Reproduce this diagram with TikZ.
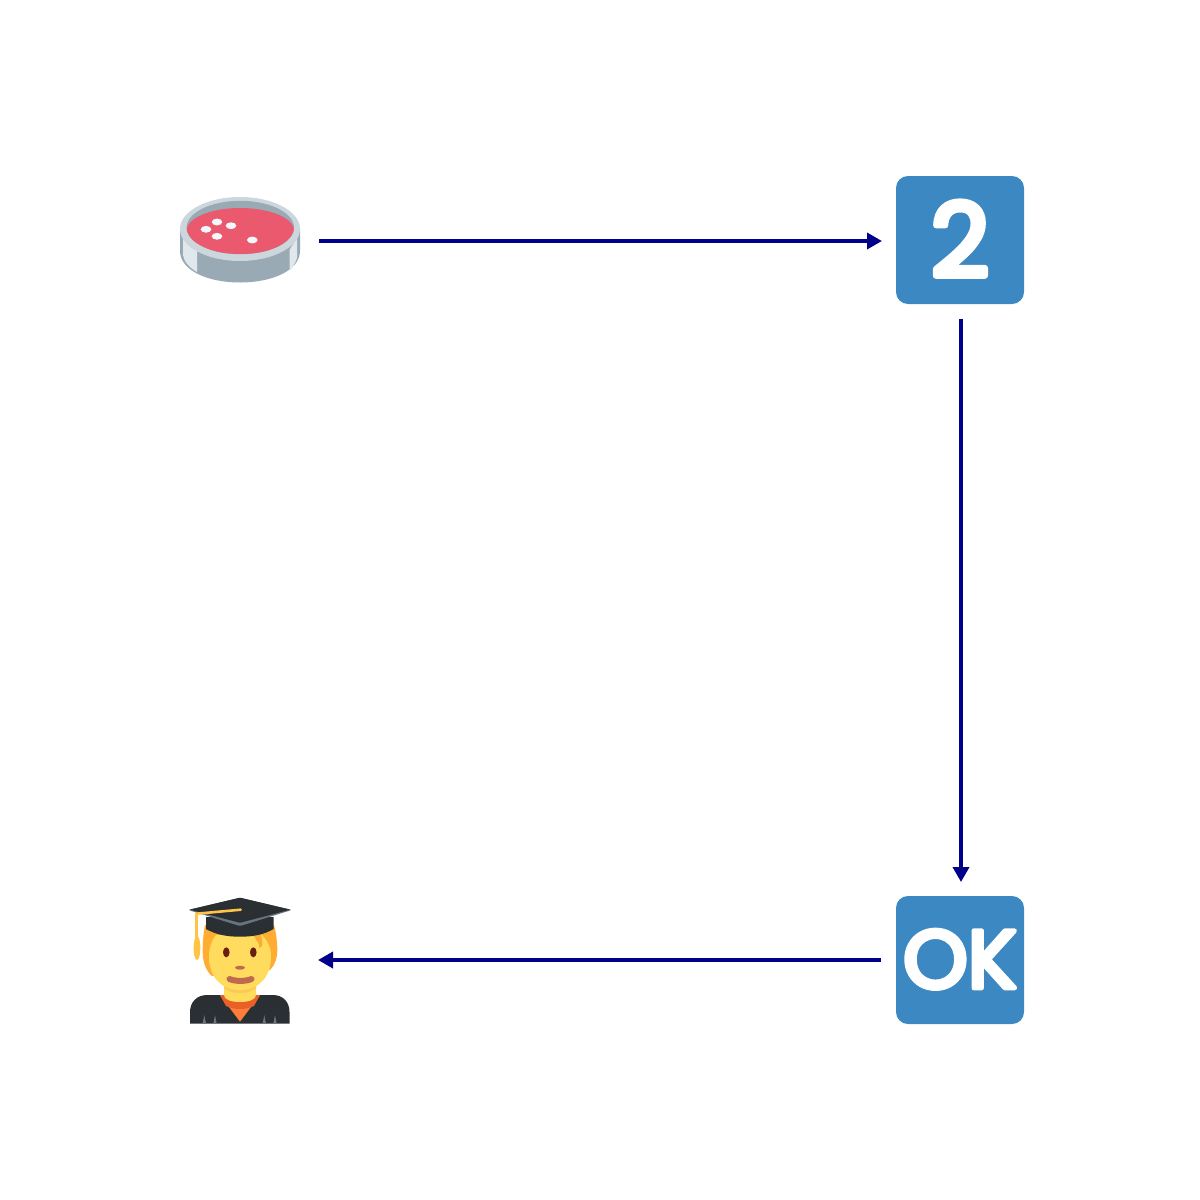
\documentclass[tikz,border=0pt]{standalone}
\usepackage{fontspec}
\usetikzlibrary{arrows.meta}
\newfontfamily\badgefont[FakeBold=6]{Poppins}
\definecolor{conn}{HTML}{00008B}
\definecolor{badge}{HTML}{3B88C3}
\definecolor{dishrim}{HTML}{CCD6DD}
\definecolor{dishgray}{HTML}{99AAB5}
\definecolor{dishlight}{HTML}{E1E8ED}
\definecolor{dishred}{HTML}{EA596E}
\definecolor{spot}{HTML}{F5F8FA}
\definecolor{capdark}{HTML}{292F33}
\definecolor{capedge}{HTML}{66757F}
\definecolor{hair}{HTML}{FFAC33}
\definecolor{skin}{HTML}{FFDC5D}
\definecolor{skinshade}{HTML}{F9CA55}
\definecolor{gold}{HTML}{FFC445}
\definecolor{feature}{HTML}{662113}
\definecolor{mouth}{HTML}{C1694F}
\definecolor{collar}{HTML}{FF7C3A}
\definecolor{collardark}{HTML}{E95F28}
\tikzset{
  x=1pt,y=-1pt,
  anchorbox/.style={minimum size=128pt,inner sep=0pt,outer sep=15pt,shape=rectangle},
  badgebox/.style={anchorbox,fill=badge,rounded corners=12pt,text=white,line join=round,font=\badgefont},
  link/.style={draw=conn,line width=3.6pt,shorten >=-1pt,-{Triangle[length=15pt,width=16pt]}},
}
\begin{document}
\begin{tikzpicture}
\useasboundingbox[fill=white] (0,0) rectangle (1200,1200);

% petri dish
\fill[dishgray] (180,229) -- (180,251) .. controls (180,270) and (207,282.5) .. (240,282.5) .. controls (273,282.5) and (300,270) .. (300,251) -- (300,229) -- cycle;
\fill[dishlight] (183,235) -- (197,250) -- (197,272) .. controls (190,268) and (184,262) .. (183,255) -- cycle;
\fill[dishlight] (289.5,250) -- (297,238) -- (297,258) .. controls (295,264) and (292,268) .. (289.5,271) -- cycle;
\fill[dishrim] (240,229) ellipse [x radius=60,y radius=32];
\begin{scope}
  \clip (240.3,227.5) ellipse [x radius=53.7,y radius=26.7];
  \fill[dishgray] (186,200) rectangle (295,255);
  \fill[dishred] (240.3,231) ellipse [x radius=54,y radius=23];
\end{scope}
\foreach \px/\py in {206/229.3,217/222,231/225.7,217/236.3,252.3/240}
  \fill[spot] (\px,\py) ellipse [x radius=5.3,y radius=3.4];
\node[anchorbox] (petri) at (240,240) {};

% graduate
\fill[hair] (205,925) .. controls (203,935) and (202.7,945) .. (202.7,952) .. controls (202.7,962) and (206,971) .. (212,976) -- (270,970) .. controls (275,965) and (277.3,958) .. (277.3,950) .. controls (277.3,942) and (276,932) .. (274,925) -- cycle;
\fill[capdark] (190,1023.7) -- (190,1012) .. controls (190,1002) and (197,995) .. (207,995) -- (273,995) .. controls (283,995) and (289.5,1002) .. (289.5,1012) -- (289.5,1023.7) -- cycle;
\fill[capedge] (204.3,1015) -- (206,1023.7) -- (202.6,1023.7) -- cycle;
\fill[capedge] (215,1015) -- (216.7,1023.7) -- (213.3,1023.7) -- cycle;
\fill[capedge] (264.3,1015) -- (266,1023.7) -- (262.6,1023.7) -- cycle;
\fill[capedge] (275,1015) -- (276.7,1023.7) -- (273.3,1023.7) -- cycle;
\fill[collar] (220,995) -- (260,995) -- (240,1021.7) -- cycle;
\fill[collardark] (220,995) -- (260,995) -- (254,1006) .. controls (245,1010) and (235,1010) .. (226,1006) -- cycle;
\fill[skin] (224,980) -- (256,980) -- (256,995) .. controls (256,1000) and (248,1002) .. (240,1002) .. controls (232,1002) and (224,1000) .. (224,995) -- cycle;
\fill[skinshade] (224,980) -- (256,980) -- (256,988) .. controls (248,995) and (232,995) .. (224,988) -- cycle;
\fill[skin] (216,935) -- (262,935) .. controls (267,940) and (271,947) .. (271,956) .. controls (271,978) and (258,990) .. (240,990) .. controls (222,990) and (209,978) .. (209,956) .. controls (209,947) and (212,940) .. (216,935) -- cycle;
\fill[hair] (253,935) .. controls (258,942) and (260,945) .. (259,948) .. controls (262,947) and (264,946) .. (261,935) -- cycle;
\fill[feature] (226.3,952.3) ellipse [x radius=3.3,y radius=5];
\fill[feature] (253.3,952.3) ellipse [x radius=3.3,y radius=5];
\fill[mouth] (240,967.7) ellipse [x radius=5,y radius=2];
\draw[mouth,line width=6pt,line cap=round] (229.5,979) .. controls (235,981.5) and (246,981.5) .. (251.5,979);
\fill[capdark] (206,917) -- (273.5,917) -- (273.5,929) .. controls (265,934) and (255,936.7) .. (240,936.7) .. controls (225,936.7) and (215,934) .. (206,929) -- cycle;
\fill[capedge,rounded corners=1pt] (240,897.7) -- (291.7,910) -- (240,926) -- (188.3,910) -- cycle;
\fill[capdark,rounded corners=1pt] (240,897.7) -- (290.5,909.6) -- (240,922.8) -- (189.5,909.6) -- cycle;
\draw[gold,line width=2.6pt,line cap=round] (240.7,909.7) -- (196.5,913.7) -- (196.5,938);
\fill[gold] (197,948) ellipse [x radius=3.4,y radius=12];
\node[anchorbox] (grad) at (240,960) {};

% badges
\node[badgebox,font=\badgefont\fontsize{102}{102}\selectfont] (two) at (960,240) {\raisebox{2pt}{2}};
\node[badgebox,font=\badgefont\fontsize{82}{82}\selectfont] (ok) at (960,960) {\raisebox{2pt}{OK}};

% connectors
\draw[link] ([yshift=-1pt]petri.east) -- ([yshift=-1pt]two.west);
\draw[link] ([xshift=1pt]two.south) -- ([xshift=1pt]ok.north);
\draw[link] (ok.west) -- (grad.east);
\end{tikzpicture}
\end{document}
